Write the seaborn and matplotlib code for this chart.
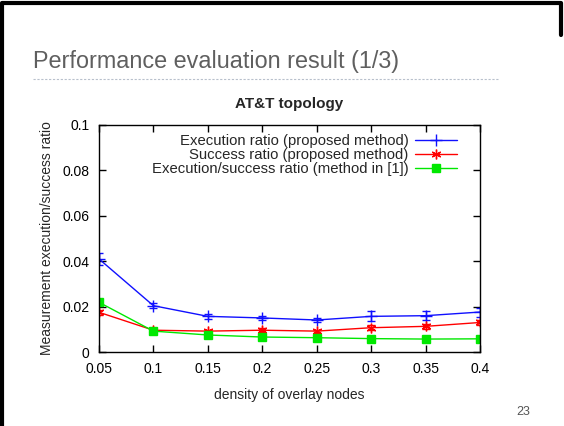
import pandas as pd
import matplotlib
matplotlib.use('Agg')
import matplotlib.pyplot as plt
import seaborn as sns
from matplotlib.lines import Line2D

# data
density = [0.05, 0.1, 0.15, 0.2, 0.25, 0.3, 0.35, 0.4]
exec_ratio = [0.0410, 0.0204, 0.0157, 0.0150, 0.0141, 0.0157, 0.0160, 0.0176]
exec_err = [0.0026, 0.0010, 0.0010, 0.0010, 0.0010, 0.0022, 0.0020, 0.0020]
succ_ratio = [0.0175, 0.0096, 0.0092, 0.0096, 0.0092, 0.0107, 0.0113, 0.0130]
succ_err = [0.0012, 0.0008, 0.0007, 0.0008, 0.0007, 0.0010, 0.0010, 0.0010]
old_ratio = [0.0219, 0.0092, 0.0075, 0.0066, 0.0063, 0.0059, 0.0057, 0.0058]

series_names = ['Execution ratio (proposed method)',
                'Success ratio (proposed method)',
                'Execution/success ratio (method in [1])']
x_ticks = [0.05, 0.1, 0.15, 0.2, 0.25, 0.3, 0.35, 0.4]
x_tick_labels = ['0.05', '0.1', '0.15', '0.2', '0.25', '0.3', '0.35', '0.4']
y_ticks = [0, 0.02, 0.04, 0.06, 0.08, 0.1]
y_tick_labels = ['0', '0.02', '0.04', '0.06', '0.08', '0.1']

colors = ['#1010ff', '#ff0000', '#00e800']
markers = ['+', (6, 2, 0), 's']
sizes = [8, 7, 6]

df = pd.DataFrame({
    'density': density * 3,
    'ratio': exec_ratio + succ_ratio + old_ratio,
    'series': [series_names[0]] * 8 + [series_names[1]] * 8 + [series_names[2]] * 8,
})

sns.set_style('ticks')
plt.rcParams['font.family'] = ['Liberation Sans', 'DejaVu Sans']

fig = plt.figure(figsize=(5.64, 4.26), dpi=100)
ax = fig.add_axes([0.1755, 0.1737, 0.851 - 0.1755, 0.7066 - 0.1737])

sns.lineplot(data=df, x='density', y='ratio', hue='series', palette=colors,
             hue_order=series_names, linewidth=1, legend=False, ax=ax)

# markers and error bars, gnuplot style
for vals, err, c, m, s in [(exec_ratio, exec_err, colors[0], markers[0], sizes[0]),
                           (succ_ratio, succ_err, colors[1], markers[1], sizes[1]),
                           (old_ratio, None, colors[2], markers[2], sizes[2])]:
    if err is not None:
        ax.errorbar(density, vals, yerr=err, fmt='none', ecolor=c,
                    elinewidth=1, capsize=3, capthick=1)
    ax.plot(density, vals, linestyle='none', marker=m, color=c, markersize=s,
            markeredgewidth=1)

ax.set_xlim(0.05, 0.4)
ax.set_ylim(0, 0.1)
ax.set_xticks(x_ticks)
ax.set_xticklabels(x_tick_labels)
ax.set_yticks(y_ticks)
ax.set_yticklabels(y_tick_labels)
ax.tick_params(direction='in', length=5, width=1, top=True, right=True,
               labelsize=10, colors='black', pad=7)
for sp in ax.spines.values():
    sp.set_visible(True)
    sp.set_color('black')
    sp.set_linewidth(1)

ax.set_xlabel('density of overlay nodes', fontsize=10, labelpad=9)
ax.set_ylabel('Measurement execution/success ratio', fontsize=10, labelpad=6)
ax.set_title('AT&T topology', fontsize=11, fontweight='bold', pad=12)

handles = [Line2D([0], [0], color=c, marker=m, markersize=s, linewidth=1)
           for c, m, s in zip(colors, markers, sizes)]
ax.legend(handles, series_names, loc='upper right', frameon=False,
          bbox_to_anchor=(1 - 14 / 381, 1.0),
          markerfirst=False, fontsize=10.7, handlelength=2.8,
          labelspacing=0.02, borderaxespad=0.2, handletextpad=0.45)

# slide decorations
fig.text(33 / 564, 1 - 68 / 426, 'Performance evaluation result (1/3)',
         fontsize=16.8, color='#5f5f5f', va='baseline', ha='left')
fig.add_artist(Line2D([33 / 564, 498 / 564], [1 - 79 / 426] * 2,
                      color='#b8c0cc', linewidth=0.8, linestyle=(0, (2, 1.5))))
fig.text(523 / 564, 1 - 412 / 426, '23', fontsize=9, color='#555555',
         ha='center', va='center')
fig.add_artist(Line2D([0.004, 0.004, 0.994, 0.994], [0, 0.994, 0.994, 1 - 35 / 426],
                      color='black', linewidth=3))

plt.savefig('out.png', dpi=100)
